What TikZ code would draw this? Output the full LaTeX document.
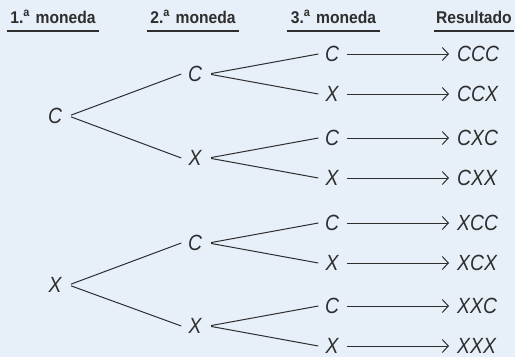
\documentclass[tikz,border=0pt]{standalone}
\usepackage{fontspec}
\setmainfont{Liberation Sans}
\newfontfamily\lblfont[FakeStretch=0.88]{Liberation Sans}
\newfontfamily\hdrfont[FakeStretch=0.92]{Liberation Sans}
\usetikzlibrary{arrows.meta}
\definecolor{bg}{HTML}{E7EFF8}
\definecolor{ink}{HTML}{2E2E2E}
\tikzset{
  lvl/.style={font=\lblfont\itshape\fontsize{22}{22}\selectfont, text=ink, text width=14pt, align=center, inner xsep=6.5pt, inner ysep=0pt},
  res/.style={font=\lblfont\itshape\fontsize{22}{22}\selectfont, text=ink, anchor=west, inner xsep=8pt, inner ysep=0pt},
  hdr/.style={font=\hdrfont\bfseries\fontsize{17}{17}\selectfont, text=ink, align=center, inner sep=0pt, anchor=base},
  branch/.style={draw=ink, line width=1pt},
  result/.style={draw=ink, line width=1pt, -{Straight Barb[length=6pt,width=13pt,line width=1pt]}},
  uline/.style={draw=ink, line width=1.1pt}
}
\begin{document}
\begin{tikzpicture}[x=1pt,y=-1pt]
\fill[bg] (0,0) rectangle (515,357);
\useasboundingbox (0,0) rectangle (515,357);
% headers
\node[hdr, text width=92pt] (h1) at (53,23) {1.\textsuperscript{a} moneda};
\node[hdr, text width=92pt] (h2) at (193,23) {2.\textsuperscript{a} moneda};
\node[hdr, text width=93pt] (h3) at (333.5,23) {3.\textsuperscript{a} moneda};
\node[hdr, text width=80pt] (h4) at (474,23) {Resultado};
\foreach \h in {h1,h2,h3,h4}{
  \draw[uline] ([yshift=-8pt]\h.base west) -- ([yshift=-8pt]\h.base east);
}
% roots
\node[lvl] (r1) at (55,116) {C};
\node[lvl] (r2) at (55,285) {X};
% level 2
\node[lvl] (a1) at (195,74) {C};
\node[lvl] (a2) at (195,158) {X};
\node[lvl] (a3) at (195,243) {C};
\node[lvl] (a4) at (195,326) {X};
% level 3
\node[lvl] (b1) at (332,54) {C};
\node[lvl] (b2) at (332,94) {X};
\node[lvl] (b3) at (332,138) {C};
\node[lvl] (b4) at (332,178) {X};
\node[lvl] (b5) at (332,223) {C};
\node[lvl] (b6) at (332,263) {X};
\node[lvl] (b7) at (332,306) {C};
\node[lvl] (b8) at (332,346) {X};
% results
\node[res] (c1) at (449,54) {CCC};
\node[res] (c2) at (449,94) {CCX};
\node[res] (c3) at (449,138) {CXC};
\node[res] (c4) at (449,178) {CXX};
\node[res] (c5) at (449,223) {XCC};
\node[res] (c6) at (449,263) {XCX};
\node[res] (c7) at (449,306) {XXC};
\node[res] (c8) at (449,346) {XXX};
% branches
\draw[branch, shorten <=2.5pt] (r1.east) -- (a1.west);
\draw[branch, shorten <=2.5pt] (r1.east) -- (a2.west);
\draw[branch, shorten <=2.5pt] (r2.east) -- (a3.west);
\draw[branch, shorten <=2.5pt] (r2.east) -- (a4.west);
\draw[branch, shorten <=2.5pt] (a1.east) -- (b1.west);
\draw[branch, shorten <=2.5pt] (a1.east) -- (b2.west);
\draw[branch, shorten <=2.5pt] (a2.east) -- (b3.west);
\draw[branch, shorten <=2.5pt] (a2.east) -- (b4.west);
\draw[branch, shorten <=2.5pt] (a3.east) -- (b5.west);
\draw[branch, shorten <=2.5pt] (a3.east) -- (b6.west);
\draw[branch, shorten <=2.5pt] (a4.east) -- (b7.west);
\draw[branch, shorten <=2.5pt] (a4.east) -- (b8.west);
\foreach \i in {1,...,8}{
  \draw[result, shorten <=1pt] (b\i.east) -- (c\i.west);
}
\end{tikzpicture}
\end{document}
